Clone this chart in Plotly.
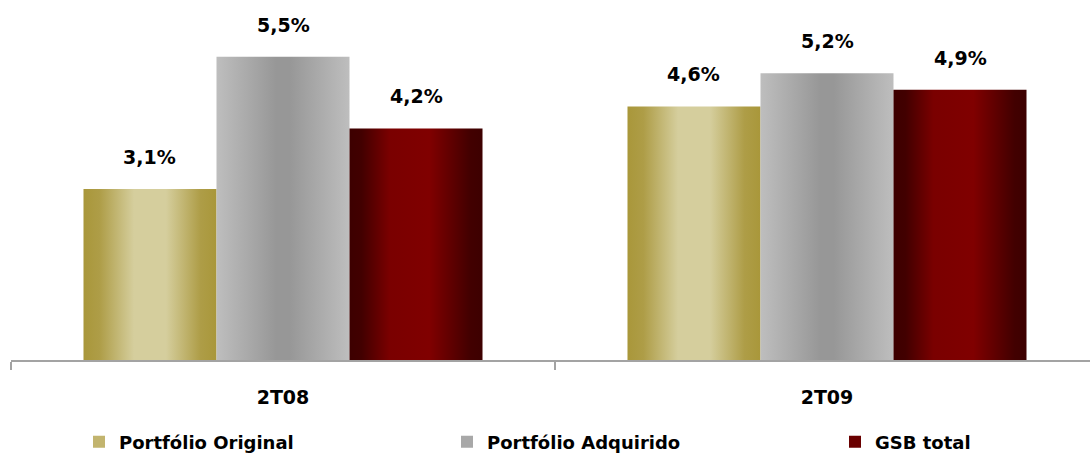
import plotly.graph_objects as go

# --- data ---------------------------------------------------------------
periods = ["2T08", "2T09"]
series_names = ["Portfólio Original", "Portfólio Adquirido", "GSB total"]
portfolio_original = [3.1, 4.6]
portfolio_adquirido = [5.5, 5.2]
gsb_total = [4.2, 4.9]
value_labels = [["3,1%", "4,6%"], ["5,5%", "5,2%"], ["4,2%", "4,9%"]]

# --- styling ------------------------------------------------------------
FONT = "DejaVu Sans"
gradients = [
    [[0.0, "#A9973A"], [0.12, "#AE9D47"], [0.38, "#D5CE9D"], [0.62, "#D5CE9D"],
     [0.88, "#AE9D47"], [1.0, "#A9973A"]],
    [[0.0, "#BEBEBE"], [0.45, "#979797"], [0.55, "#979797"], [1.0, "#BEBEBE"]],
    [[0.0, "#3D0000"], [0.09, "#420000"], [0.3, "#7A0000"], [0.6, "#800000"],
     [0.91, "#420000"], [1.0, "#3D0000"]],
]
legend_colors = ["#C2B46E", "#A8A8A8", "#6A0000"]
bar_width = 0.2445
offsets = [-bar_width, 0.0, bar_width]

fig = go.Figure()

all_series = [portfolio_original, portfolio_adquirido, gsb_total]
for s, values in enumerate(all_series):
    for i, v in enumerate(values):
        xc = i + offsets[s]
        x0, x1 = xc - bar_width / 2, xc + bar_width / 2
        fig.add_trace(go.Scatter(
            x=[x0, x1, x1, x0, x0],
            y=[0, 0, v, v, 0],
            mode="lines",
            line=dict(width=0, color="rgba(0,0,0,0)"),
            fill="toself",
            fillcolor=legend_colors[s],
            fillgradient=dict(type="horizontal", colorscale=gradients[s]),
            showlegend=False,
            hoverinfo="skip",
        ))
        fig.add_annotation(
            x=xc, y=v, xref="x", yref="y",
            text=value_labels[s][i],
            showarrow=False, yanchor="bottom", yshift=19,
            font=dict(family=FONT, size=19, color="#000000", weight="bold"),
        )

# legend entries (one small swatch per series)
legend_ids = ["legend", "legend2", "legend3"]
legend_x = [79, 447, 835]
for s, name in enumerate(series_names):
    fig.add_trace(go.Bar(
        x=[None], y=[None], name=name,
        marker=dict(color=legend_colors[s], line=dict(width=0)),
        legend=legend_ids[s], showlegend=True,
    ))

legend_common = dict(
    orientation="h", xref="container", yref="container",
    xanchor="left", yanchor="middle", y=1 - 442 / 454,
    font=dict(family=FONT, size=18, color="#000000", weight="bold"),
    bgcolor="rgba(0,0,0,0)", borderwidth=0,
)

fig.update_layout(
    width=1090, height=454,
    margin=dict(l=11, r=0, t=0, b=94),
    paper_bgcolor="white", plot_bgcolor="white",
    showlegend=True,
    legend=dict(x=legend_x[0] / 1090, **legend_common),
    legend2=dict(x=legend_x[1] / 1090, **legend_common),
    legend3=dict(x=legend_x[2] / 1090, **legend_common),
    xaxis=dict(
        range=[-0.5, -0.5 + 1079 / 544],
        tickvals=list(range(len(periods))),
        ticktext=periods,
        ticks="",
        showgrid=False, zeroline=False,
        showline=True, linecolor="#A3A3A3", linewidth=1.5,
        tickfont=dict(family=FONT, size=19, color="#000000", weight="bold"),
        ticklabelstandoff=19,
        minor=dict(tickvals=[-0.5, 0.5, 1.5], ticks="outside", ticklen=8,
                   tickcolor="#A3A3A3", tickwidth=1.5, showgrid=False),
        fixedrange=True,
    ),
    yaxis=dict(range=[0, 6.53], visible=False, fixedrange=True),
)

fig.write_html("out.html")
